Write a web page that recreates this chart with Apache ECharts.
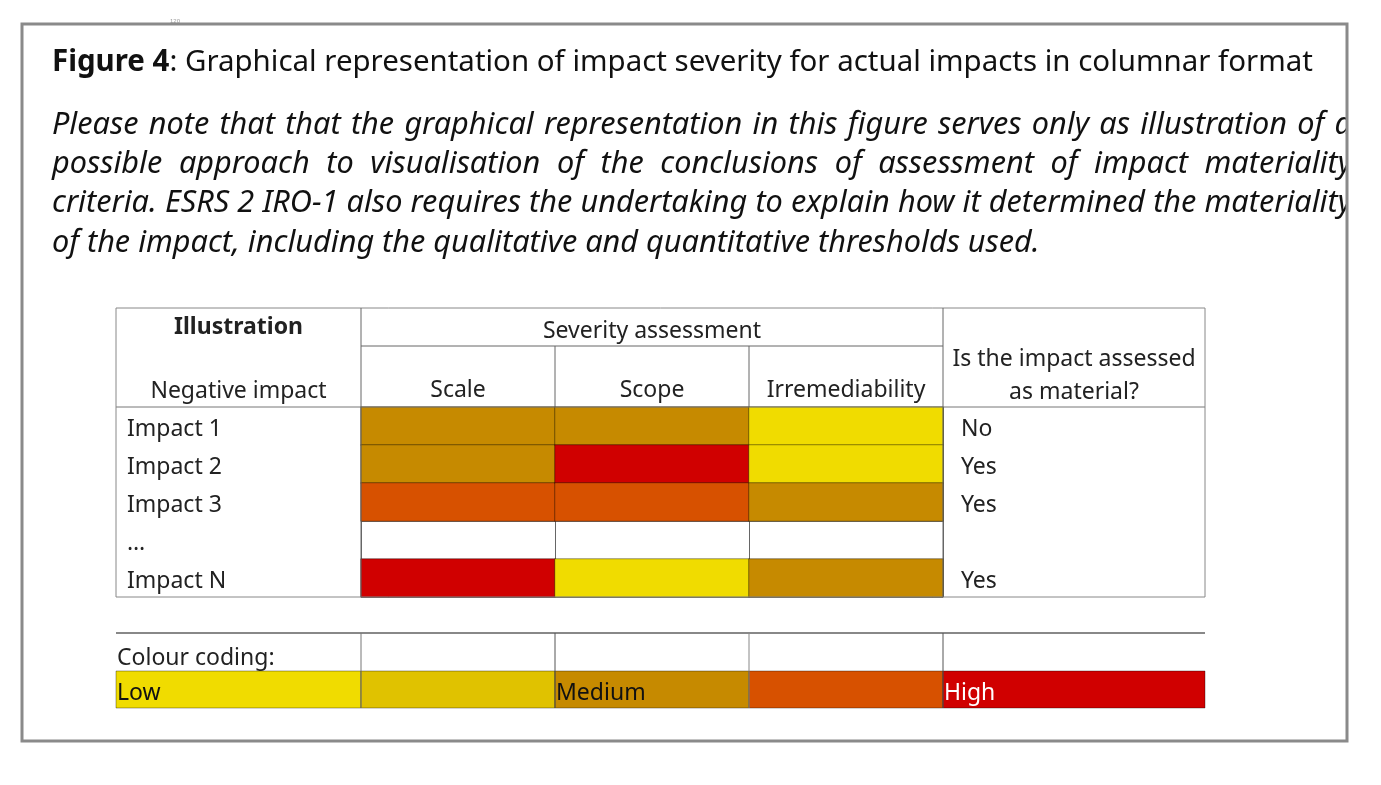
<!DOCTYPE html>
<html>
<head>
<meta charset="utf-8">
<script src="https://cdn.jsdelivr.net/npm/echarts@6/dist/echarts.min.js"></script>
<style>
html, body { margin: 0; background: #fff; }
#chart { width: 1381px; height: 785px; }
</style>
</head>
<body>
<div id="chart"></div>
<script>
// ---- data ----
var impacts = ['Impact 1', 'Impact 2', 'Impact 3', '…', 'Impact N'];
var criteria = ['Scale', 'Scope', 'Irremediability'];
// severity level 1 (low) .. 5 (high), null = not filled
var scaleLevel = [3, 3, 4, null, 5];
var scopeLevel = [3, 5, 4, null, 1];
var irremLevel = [1, 1, 3, null, 3];
var isMaterial = ['No', 'Yes', 'Yes', '', 'Yes'];
var levels = [1, 2, 3, 4, 5];
var levelNames = ['Low', '', 'Medium', '', 'High'];

var titleBold = 'Figure 4';
var titleRest = ': Graphical representation of impact severity for actual impacts in columnar format';
var noteLines = [
  'Please note that that the graphical representation in this figure serves only as illustration of a',
  'possible approach to visualisation of the conclusions of assessment of impact materiality',
  'criteria. ESRS 2 IRO-1 also requires the undertaking to explain how it determined the materiality',
  'of the impact, including the qualitative and quantitative thresholds used.'
];

// ---- styles / layout ----
var levelColors = ['#f0dc00', '#e0c200', '#c68a00', '#d75100', '#d00000'];
var levelText = ['#111', '#111', '#111', '#111', '#fff'];
var tableFont = 'Noto Sans';
var tableSize = 23;
var docFont = 'Noto Sans';
var colX = [116, 361, 555, 749, 943, 1205];
var tTop = 308, tSub = 346, tHead = 407, tBottom = 597;
var legTop = 633, legMid = 671, legBottom = 708;

var myChart = echarts.init(document.getElementById('chart'));

var heatData = [];
[scaleLevel, scopeLevel, irremLevel].forEach(function (col, i) {
  col.forEach(function (v, j) {
    heatData.push([i, j, v == null ? '-' : v]);
  });
});

// fit document fonts to the widths seen in the figure
var ctx = document.createElement('canvas').getContext('2d');
function width(s, font) { ctx.font = font; return ctx.measureText(s).width; }
var titleSize = 28 * 1261 / (width(titleBold, 'bold 28px ' + docFont) + width(titleRest, '28px ' + docFont));
var noteSize = 27 * 988 / width(noteLines[3], 'italic 27px ' + docFont);
var noteFont = 'italic ' + noteSize.toFixed(2) + 'px ' + docFont;

// justified paragraph: lay words out by measured width
var noteEls = [];
noteLines.forEach(function (line, k) {
  var y = 125 + k * 39.3;
  if (k == noteLines.length - 1) {
    noteEls.push({ type: 'text', x: 52, y: y, style: { text: line, font: noteFont, fill: '#111', verticalAlign: 'middle' } });
    return;
  }
  var words = line.split(' ');
  var total = 0;
  words.forEach(function (w) { total += width(w, noteFont); });
  var gap = (1352 - 52 - total) / (words.length - 1);
  var x = 52;
  words.forEach(function (w) {
    noteEls.push({ type: 'text', x: x, y: y, style: { text: w, font: noteFont, fill: '#111', verticalAlign: 'middle' } });
    x += width(w, noteFont) + gap;
  });
});

function hline(x1, x2, y, color, w) {
  return { type: 'line', shape: { x1: x1, y1: y, x2: x2, y2: y }, style: { stroke: color || '#888', lineWidth: w || 1 }, z: 50 };
}
function vline(x, y1, y2, color, w) {
  return { type: 'line', shape: { x1: x, y1: y1, x2: x, y2: y2 }, style: { stroke: color || '#888', lineWidth: w || 1 }, z: 50 };
}
function txt(x, y, s, opt) {
  opt = opt || {};
  return { type: 'text', x: x, y: y, z: 60, style: {
    text: s, fill: opt.fill || '#222', align: opt.align || 'left', verticalAlign: 'middle',
    font: (opt.weight || 'normal') + ' ' + (opt.size || tableSize) + 'px "' + (opt.family || tableFont) + '"'
  } };
}

var legendEls = [];
levels.forEach(function (lv, i) {
  legendEls.push({ type: 'rect', shape: { x: colX[i], y: legMid, width: colX[i + 1] - colX[i], height: legBottom - legMid },
    style: { fill: levelColors[lv - 1], stroke: 'rgba(0,0,0,0.35)', lineWidth: 1 }, z: 40 });
  if (levelNames[i]) legendEls.push(txt(colX[i] + 1, 693, levelNames[i], { fill: levelText[lv - 1] }));
});

var graphics = [
  { type: 'text', x: 170, y: 21, style: { text: '120', font: '6px sans-serif', fill: '#999', verticalAlign: 'middle' } },
  { type: 'text', x: 52, y: 63, style: {
      text: '{b|' + titleBold + '}' + titleRest, verticalAlign: 'middle',
      font: titleSize.toFixed(2) + 'px ' + docFont, fill: '#111',
      rich: { b: { font: 'bold ' + titleSize.toFixed(2) + 'px ' + docFont, fill: '#111' } }
  } },
  // table frame
  hline(colX[0], colX[5], tTop), hline(colX[1], colX[4], tSub, '#666'), hline(colX[0], colX[5], tHead, '#777'),
  hline(colX[0], colX[5], tBottom),
  vline(colX[0], tTop, tBottom), vline(colX[1], tTop, tBottom, '#666'), vline(colX[4], tTop, tBottom, '#666'),
  vline(colX[5], tTop, tBottom), vline(colX[2], tSub, tHead, '#666'), vline(colX[3], tSub, tHead, '#666'),
  txt((colX[0] + colX[1]) / 2, 327, 'Illustration', { align: 'center', weight: 'bold' }),
  txt((colX[1] + colX[4]) / 2, 331, 'Severity assessment', { align: 'center' }),
  txt((colX[0] + colX[1]) / 2, 391, 'Negative impact', { align: 'center' }),
  txt((colX[4] + colX[5]) / 2, 359, 'Is the impact assessed', { align: 'center' }),
  txt((colX[4] + colX[5]) / 2, 392, 'as material?', { align: 'center' }),
  // colour coding
  hline(colX[0], colX[5], legTop, '#888', 2),
  vline(colX[1], legTop, legBottom, '#777'), vline(colX[2], legTop, legBottom, '#555'),
  vline(colX[3], legTop, legBottom, '#888'), vline(colX[4], legTop, legBottom, '#555'),
  txt(colX[0] + 1, 658, 'Colour coding:')
].concat(legendEls).concat(noteEls).concat([
  // cover text that runs past the frame, then the frame
  { type: 'rect', shape: { x: 1348, y: 30, width: 40, height: 700 }, style: { fill: '#fff' }, z: 80 },
  { type: 'rect', shape: { x: 22, y: 24, width: 1325, height: 717 }, style: { fill: 'none', stroke: '#8a8a8a', lineWidth: 3 }, z: 90 }
]);

var rowRich = { r: { fontSize: tableSize, color: '#222', fontFamily: tableFont, padding: [6, 0, 0, 0] } };

var option = {
  backgroundColor: '#fff',
  animation: false,
  grid: { left: colX[1], top: tHead, width: colX[4] - colX[1], height: tBottom - tHead },
  xAxis: {
    type: 'category', data: criteria, position: 'top',
    axisLine: { show: false }, axisTick: { show: false },
    axisLabel: { interval: 0, margin: 5, fontSize: tableSize, color: '#222', fontFamily: tableFont },
    splitLine: { show: true, interval: 0, lineStyle: { color: '#666' } }
  },
  yAxis: [{
    type: 'category', data: impacts, inverse: true,
    axisLine: { show: false }, axisTick: { show: false },
    axisLabel: { interval: 0, align: 'left', margin: colX[1] - 127, rich: rowRich,
      formatter: function (v) { return '{r|' + v + '}'; } },
    splitLine: { show: true, interval: 0, lineStyle: { color: '#888' } }
  }, {
    type: 'category', data: impacts, inverse: true, position: 'right',
    axisLine: { show: false }, axisTick: { show: false },
    axisLabel: { interval: 0, align: 'left', margin: 18, rich: rowRich,
      formatter: function (v, i) { return isMaterial[i] ? '{r|' + isMaterial[i] + '}' : ''; } },
    splitLine: { show: false }
  }],
  visualMap: {
    type: 'piecewise', show: false, dimension: 2,
    pieces: levels.map(function (lv) { return { value: lv, color: levelColors[lv - 1] }; })
  },
  series: [{
    type: 'heatmap', data: heatData,
    itemStyle: { borderColor: 'rgba(0,0,0,0.4)', borderWidth: 1 },
    emphasis: { disabled: true }
  }],
  graphic: graphics
};
myChart.setOption(option);
</script>
</body>
</html>
